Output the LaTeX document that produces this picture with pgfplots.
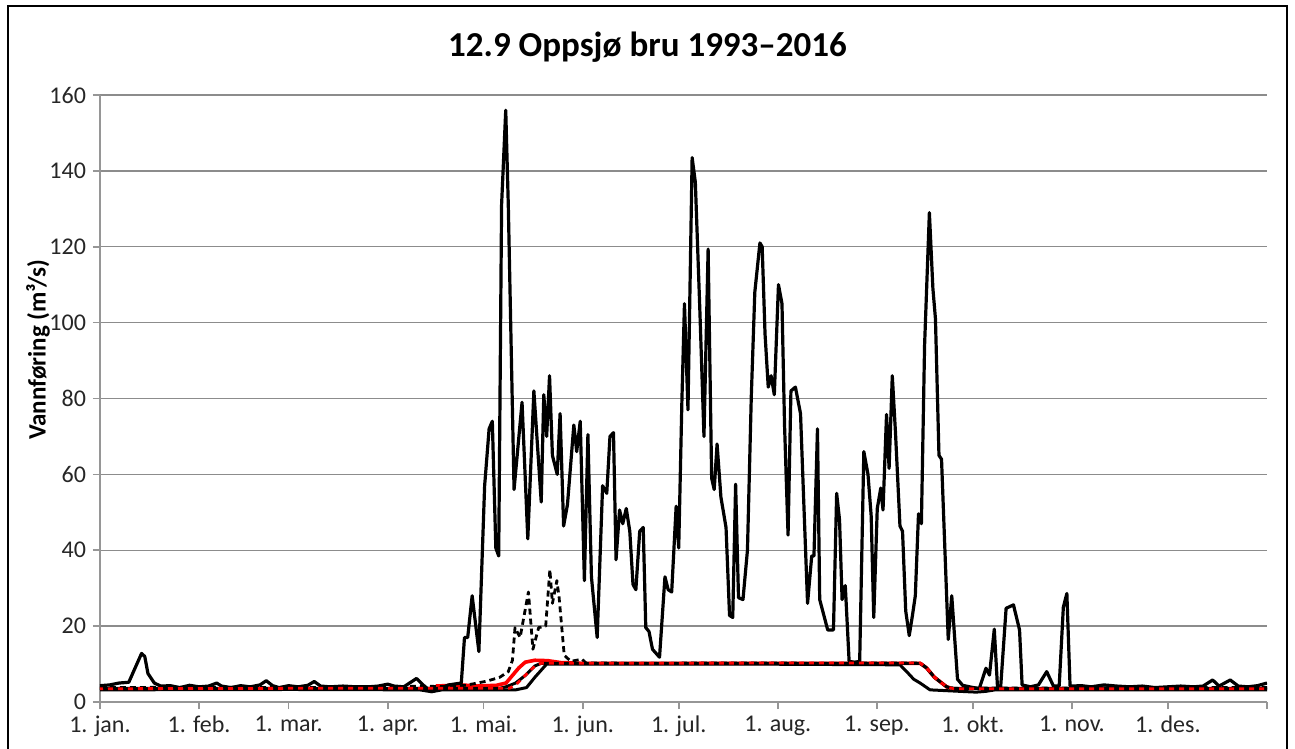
\documentclass[border=0pt]{standalone}
\usepackage{fontspec}
\setmainfont{Carlito}
\usepackage{pgfplots}
\pgfplotsset{compat=1.18}
\definecolor{gridgray}{RGB}{140,140,140}
\definecolor{axgray}{RGB}{150,150,150}
\begin{document}
\begin{tikzpicture}[x=1pt,y=1pt]
\useasboundingbox (-50pt,-23.5pt) rectangle (597.5pt,351pt);
\draw[line width=1pt] (-46pt,-40pt) -- (-46pt,348pt) -- (593.5pt,348pt) -- (593.5pt,-40pt);
\begin{axis}[
  at={(0pt,0pt)}, anchor=south west,
  scale only axis, width=583.5pt, height=303.5pt,
  xmin=0, xmax=365, ymin=0, ymax=160,
  axis x line*=bottom, axis y line*=left,
  axis line style={axgray, line width=0.8pt, -},
  xtick={0,31,59,90,120,151,181,212,243,273,304,334,365},
  xticklabels={1. jan.,1. feb.,1. mar.,1. apr.,1. mai.,1. jun.,1. jul.,1. aug.,1. sep.,1. okt.,1. nov.,1. des.,{}},
  ytick={0,20,...,160},
  tick align=outside, major tick length=3.5pt,
  tick style={axgray, line width=0.8pt},
  ymajorgrids, major grid style={gridgray, line width=0.7pt},
  /pgf/number format/assume math mode=true,
  ticklabel style={font=\fontsize{12}{14}\selectfont, text=black!85},
  line join=round,
]
% red solid
\addplot[red, line width=1.8pt] coordinates {
(105,4.2)(113,4.5)(118,4.2)(124,4.4)(127,5)(129,7)(131,9)(133,10.5)(136,11)(140,10.9)(144,10.4)(150,10.2)(256.5,10.2)(258.5,9)(261,6.5)(264.8,4)(266,3.6)};
% min
\addplot[black, line width=1.5pt] coordinates {
(0,3.2)(60,3.3)(100,3.2)(103.7,2.7)(107,3.2)(130,3.2)(133.4,3.8)(136,6.5)(139.7,10)(200,10)(250.2,9.8)(252.3,8)(254.5,6)(256.5,5)(259.6,3.2)(274,2.6)(277,2.8)(280,3.2)(365,3.2)};
% second lower black
\addplot[black, line width=1.5pt] coordinates {
(0,3.6)(125,3.6)(127,4)(130,5)(133,7)(136,9.5)(138,10.2)(256.5,10.2)(258.5,9)(261,6.5)(264.8,4)(267,3.6)(365,3.6)};
% black dashed
\addplot[black, line width=1.4pt, dash pattern=on 3pt off 2pt] coordinates {
(0,3.8)(30,3.9)(60,3.8)(90,3.9)(100,4.2)(110,4)(115,4.5)(121,5.5)(125,6.5)(127.7,8)(129,11)(129.8,19.6)(131.4,17)(134,29)(135.4,13.9)(137.2,19.6)(139.4,20)(140.7,34.9)(141.5,26)(142.9,32)(143.6,27.5)(145.2,12.3)(147.3,10.7)(150.7,11.3)(152,10.3)(170,10.2)(200,10.3)(230,10.2)(250,10.3)(256.5,10.3)(258.5,9)(261,6.5)(264.8,4)(267,3.6)(280,3.7)(300,3.7)(330,3.8)(365,3.8)};
% max
\addplot[black, line width=1.6pt] coordinates {
(0,4.3)(3,4.5)(6,5)(9,5.2)(11,9)(13,12.8)(14,12)(15,7.5)(17,5)(19,4.2)(22,4.3)(25,3.8)(28,4.4)(31,4)(34,4.2)(36.5,5)(38,4.2)(41,3.8)(44,4.3)(47,4)(50,4.5)(52,5.6)(54,4.3)(56,3.8)(59,4.3)(62,4)(65,4.4)(67,5.4)(69,4.2)(72,4)(76,4.2)(80,4)(84,4)(87,4.2)(90,4.7)(92,4.2)(95,4)(99,6.2)(101,4.5)(103.7,2.7)(106,3.5)(109,4.5)(113,5)
(114,17)(115,17)(116.4,28)(118.5,13.3)(120.3,57)(121.7,72)(122.7,74)(123.8,40.6)(124.7,38.5)(125.6,131)(126.9,156)(127.7,131)(129.5,56)(132,79)(133.8,43)(135.7,82)(138,52.7)(138.8,81)(139.7,70)(140.6,86)(141.5,65)(143,60)(143.9,76)(145,46.4)(146.2,52)(148.2,73)(149.1,66)(150.2,74)
(151.5,32)(152.6,70.5)(153.7,33)(155.5,17)(157.2,57)(158.5,55)(159.5,70)(160.6,71)(161.4,37.5)(162.5,50.6)(163.5,47)(164.6,51)(165.7,45)(166.7,31)(167.6,29.6)(168.8,45)(169.9,46)(170.7,19.6)(171.7,18.6)(172.8,13.9)(175,11.8)(176.7,33)(177.7,29.6)(178.8,29)(180.2,51.6)(181,40.6)(182,79.5)(182.8,105)(183.9,77)(185.2,143.5)(186.2,137)(187.6,103.6)(188.9,70)(190.2,119.4)(191.3,59)(192.1,56)(193,68)(194.2,54)
(195.8,46)(196.9,22.8)(197.9,22.3)(198.8,57.4)(199.7,27.5)(201.1,27)(202.5,40)(203.7,80.5)(204.8,108)(206.4,121)(207.1,120)(208,97)(209,83)(209.9,86)(210.9,81)(212.2,110)(213.3,105)(214.1,73)(215.2,44)(216.1,82)(217.5,83)(219.1,76)(220.1,53)(221.3,26)(222.6,38.5)(223.3,38.5)(224.4,72)(225.1,27)(227.6,19)(229.4,19)(230.4,55)(231.3,48)(232.1,27)(233.1,30.7)(234.3,10.7)(236,10.5)(237.6,10.7)
(238.9,66)(240.2,60)(241.2,49)(242,22.3)(243.1,51)(244.2,56.4)(244.9,50.6)(246,75.8)(246.8,61.6)(247.8,86)(248.8,71)(250.2,46.4)(251,45)(252,24)(253.1,17.5)(254.1,22.8)(255,28)(256,49.6)(256.9,47)(257.9,94)(259.4,129)(260.5,109)(261.3,101)(262.4,65)(263.2,64)(265.3,16.5)(266.4,28)(268.2,6)(269.8,4.4)(272,4)(275,3.5)
(277.1,8.9)(278.2,7.1)(279.7,19.2)(280.7,4)(281.7,4)(283.4,24.7)(285.7,25.6)(287.6,19)(288.4,4.5)(291,4)(293.5,4.5)(296.1,8)(298.2,4.2)(300,4.2)(301.3,25)(302.4,28.6)(303.4,4.2)(307,4.3)(310,4)(314,4.5)(318,4.2)(322,4)(326,4.2)(330,3.8)(334,4)(338,4.2)(342,4)(345,4.2)(348,5.8)(350,4.2)(353.5,5.8)(356,4.2)(359,4)(362,4.3)(365,5)};
% red dashed
\addplot[red, line width=1.4pt, dash pattern=on 2.5pt off 2.5pt, dash phase=1pt] coordinates {
(0,3.5)(60,3.6)(128,3.6)(130,4.5)(133,7)(136,9.5)(138,10.2)(256.5,10.3)(258.5,9)(261,6.5)(264.8,4)(267,3.5)(365,3.5)};
\end{axis}
\node[anchor=base, font=\bfseries\fontsize{17.5}{20}\selectfont] at (273.75pt,322.5pt) {12.9 Oppsjø bru 1993–2016};
\node[rotate=90, font=\bfseries\fontsize{12.5}{14}\selectfont] at (-31pt,176pt) {Vannføring (m³/s)};
\end{tikzpicture}
\end{document}
